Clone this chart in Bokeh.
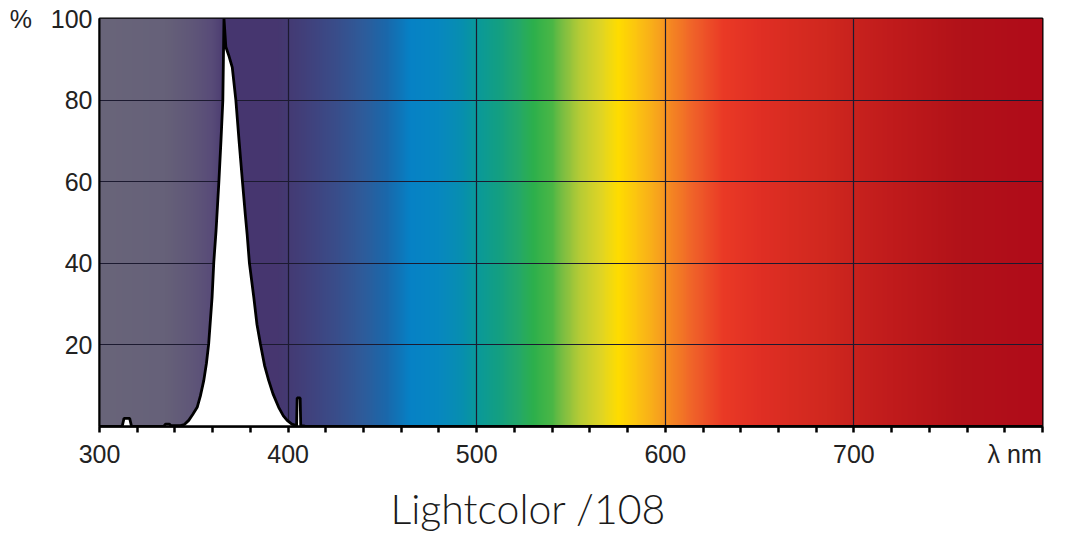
import numpy as np
from bokeh.plotting import figure
from bokeh.models import FixedTicker, Range1d, Title
from bokeh.embed import file_html
from bokeh.resources import INLINE

# ---- data ----
wavelength_nm = [300, 312, 313, 316, 317, 334, 335, 337, 338, 341, 343, 345, 347.3, 349.5, 351.8,
                 353.5, 355.3, 356.7, 357.9, 359.7, 360.6, 361.8, 363.3, 364.4, 365.4, 365.7, 366,
                 367, 368.5, 370.4, 372.3, 374, 375.8, 377.3, 378.3, 379.5, 381.8, 383.5, 385.3,
                 387.5, 389.7, 392, 395, 397.5, 399.5, 402, 404.5, 404.8, 406.4, 406.7, 409, 414, 800]
relative_pct = [0, 0, 2, 2, 0, 0, 0.6, 0.6, 0.2, 0.2, 0.2, 0.5, 1.5, 3, 4.7,
                7.5, 11.3, 15.5, 20.3, 31.7, 40.3, 48, 60, 70, 80, 90, 100,
                93, 91, 88, 80, 70, 60, 52, 47, 40, 31.7, 25, 20.3,
                15, 11.3, 8, 4.7, 2.6, 1.5, 0.6, 0.2, 7, 7, 0.2, 0.1, 0, 0]

x_major_ticks = [300, 400, 500, 600, 700, 800]
x_minor_ticks = [320, 340, 360, 380, 420, 440, 460, 480, 520, 540, 560, 580,
                 620, 640, 660, 680, 720, 740, 760, 780]
NB = "\u00a0"
x_tick_labels = {300: "300", 400: "400", 500: "500", 600: "600", 700: "700",
                 800: "λ nm" + NB * 4}
x_grid_ticks = [400, 500, 600, 700]
y_ticks = [20, 40, 60, 80, 100]
y_tick_labels = {20: "20", 40: "40", 60: "60", 80: "80", 100: "%" + NB * 2 + "\u2009" + "100"}
y_grid_ticks = [20, 40, 60, 80]
chart_title = "Lightcolor /108"

# background spectrum colour stops (style)
spectrum_stop_nm = [300, 335, 350, 360, 368, 395, 410, 425, 440, 452, 465, 480, 492, 500, 512,
                    522, 530, 540, 546, 555, 566, 575, 585, 597, 602, 615, 631, 651, 686, 700,
                    721, 757, 800]
spectrum_stop_color = ["#69657a", "#666179", "#5f5678", "#584b78", "#46366f", "#46376f", "#41417c",
                       "#3a4d8a", "#2e5c9b", "#1b68ab", "#0682c6", "#0788c0", "#078fb0", "#0a999b",
                       "#14a082", "#24a86a", "#2db04c", "#4bb746", "#7ebf42", "#b8cc35", "#e0d525",
                       "#ffdd00", "#fcc412", "#f7a21e", "#f58a22", "#f0622a", "#ea3a26", "#e02f24",
                       "#d0281f", "#c8221e", "#c01b1c", "#b21219", "#b00b1a"]

X0, X1 = x_major_ticks[0], x_major_ticks[-1]
Y0, Y1 = 0, y_ticks[-1]

p = figure(width=1069, height=546, output_backend="svg", toolbar_location=None,
           x_range=Range1d(X0, X1), y_range=Range1d(Y0, Y1),
           min_border_left=99, min_border_right=27, min_border_top=18, min_border_bottom=120)
p.background_fill_color = "white"
p.border_fill_color = "white"
p.outline_line_color = "black"
p.outline_line_width = 2

# spectrum background image
def hex2rgb(h):
    h = h.lstrip("#")
    return [int(h[i:i + 2], 16) for i in (0, 2, 4)]

stops = np.array([hex2rgb(c) for c in spectrum_stop_color], dtype=float)
ncol = 1000
xs = np.linspace(X0, X1, ncol)
img = np.empty((1, ncol), dtype=np.uint32)
view = img.view(dtype=np.uint8).reshape((1, ncol, 4))
for k in range(3):
    view[0, :, k] = np.interp(xs, spectrum_stop_nm, stops[:, k]).astype(np.uint8)
view[0, :, 3] = 255
p.image_rgba(image=[img], x=X0, y=Y0, dw=X1 - X0, dh=Y1 - Y0, level="image")

# grid
p.xgrid.ticker = FixedTicker(ticks=x_grid_ticks)
p.ygrid.ticker = FixedTicker(ticks=y_grid_ticks)
for g in (p.xgrid, p.ygrid):
    g.grid_line_color = "#1c1a30"
    g.grid_line_width = 1.2

# white area under the curve and curve line
p.varea(x=wavelength_nm, y1=0, y2=relative_pct, fill_color="white")
p.line(wavelength_nm, relative_pct, line_color="black", line_width=2.8)

# axes
tick_font = "Liberation Sans"
xa = p.xaxis[0]
xa.ticker = FixedTicker(ticks=x_major_ticks, minor_ticks=x_minor_ticks)
xa.major_label_overrides = x_tick_labels
xa.axis_line_color = "black"
xa.axis_line_width = 2.5
xa.major_tick_line_color = "black"
xa.major_tick_line_width = 2.5
xa.major_tick_in = 0
xa.major_tick_out = 6
xa.minor_tick_line_color = "black"
xa.minor_tick_line_width = 2.5
xa.minor_tick_in = 0
xa.minor_tick_out = 6
xa.major_label_text_font = tick_font
xa.major_label_text_font_size = "25px"
xa.major_label_text_color = "#222222"
xa.major_label_standoff = 7

ya = p.yaxis[0]
ya.ticker = FixedTicker(ticks=y_ticks)
ya.major_label_overrides = y_tick_labels
ya.axis_line_color = "black"
ya.axis_line_width = 2
ya.major_tick_in = 0
ya.major_tick_out = 0
ya.minor_tick_line_color = None
ya.major_label_text_font = tick_font
ya.major_label_text_font_size = "25px"
ya.major_label_text_color = "#222222"
ya.major_label_standoff = 7

# chart title below
p.add_layout(Title(text=chart_title, align="left", offset=291, standoff=23,
                   text_font="'Lato Light', Lato", text_font_size="41px", text_font_style="normal",
                   text_color="#1a1a1a"), "below")

open("out.html", "w").write(file_html(p, INLINE))
